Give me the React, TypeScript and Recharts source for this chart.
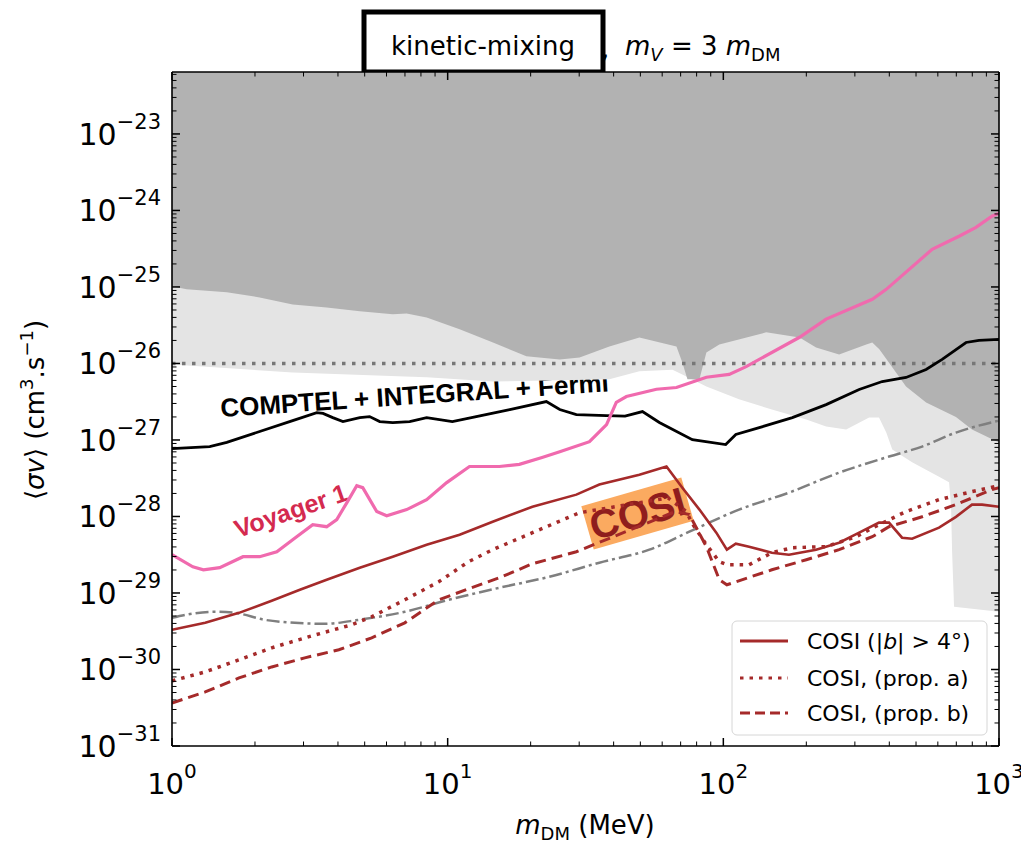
import React from 'react';
import { ComposedChart, Line, Area, XAxis, YAxis, Customized } from 'recharts';

// ---------- axes ----------
const X_DOMAIN: [number, number] = [1, 1000];
const Y_DOMAIN: [number, number] = [1e-31, 6.45e-23];
const xDecades = [1, 10, 100];
const yDecades = [1e-31, 1e-30, 1e-29, 1e-28, 1e-27, 1e-26, 1e-25, 1e-24, 1e-23];
const mantissas = [1, 2, 3, 4, 5, 6, 7, 8, 9];
const xTicks = [...xDecades.flatMap((d) => mantissas.map((m) => m * d)), 1000];
const yTicks = yDecades.flatMap((d) => mantissas.map((m) => m * d)).filter((v) => v <= Y_DOMAIN[1]);

// ---------- series (x in MeV, y in cm^3/s) ----------
const comptelFL: [number, number][] = [
  [1, 7.7e-28], [1.37, 8.2e-28], [1.58, 9.3e-28], [2.08, 1.29e-27], [2.74, 1.79e-27], [3.35, 2.28e-27],
  [3.53, 2.22e-27], [3.83, 1.96e-27], [4.17, 1.74e-27], [4.8, 1.96e-27], [5.21, 2.02e-27], [5.67, 1.74e-27],
  [6.32, 1.69e-27], [7.28, 1.74e-27], [8.39, 1.96e-27], [10.4, 1.74e-27], [12.7, 2.02e-27], [16.8, 2.5e-27],
  [22.8, 3.18e-27], [25.5, 2.5e-27], [29.3, 2.15e-27], [37.7, 2.08e-27], [44, 2.05e-27], [50.9, 2.35e-27],
  [58.6, 1.69e-27], [77.2, 1.01e-27], [102, 8.7e-28], [111, 1.18e-27], [135, 1.45e-27], [178, 1.96e-27],
  [236, 2.9e-27], [311, 4.57e-27], [377, 5.81e-27], [460, 6.56e-27], [544, 8.34e-27], [622, 1.13e-26],
  [759, 1.88e-26], [846, 2.0e-26], [1000, 2.06e-26],
];
const voyager1: [number, number][] = [
  [1, 3.16e-29], [1.19, 2.2e-29], [1.3, 2.01e-29], [1.49, 2.14e-29], [1.81, 2.98e-29], [2.08, 2.98e-29],
  [2.4, 3.46e-29], [2.74, 4.97e-29], [3.24, 7.8e-29], [3.64, 7.35e-29], [3.96, 9.1e-29], [4.31, 1.52e-28],
  [4.68, 2.53e-28], [4.92, 2.38e-28], [5.53, 1.16e-28], [6.01, 1.02e-28], [7.1, 1.23e-28], [8.39, 1.66e-28],
  [9.92, 2.77e-28], [12, 4.5e-28], [15.4, 4.5e-28], [18.2, 4.8e-28], [22, 5.9e-28], [25.5, 7.0e-28],
  [32.7, 9.5e-28], [37.7, 1.59e-27], [40.9, 3.1e-27], [44.5, 3.7e-27], [57.2, 4.6e-27], [67.6, 4.85e-27],
  [86.8, 6.6e-27], [105, 7.2e-27], [121, 9.1e-27], [189, 2.2e-26], [236, 3.8e-26], [347, 6.9e-26],
  [390, 9.3e-26], [572, 3.1e-25], [716, 4.6e-25], [825, 6.0e-25], [943, 8.4e-25], [1000, 9.2e-25],
];
const cmb: [number, number][] = [
  [1, 4.74e-30], [1.18, 5.35e-30], [1.43, 5.68e-30], [1.69, 5.5e-30], [2.17, 4.46e-30], [2.79, 4.07e-30],
  [3.58, 3.95e-30], [4.76, 4.46e-30], [6.99, 5.68e-30], [10.1, 8.15e-30], [15.4, 1.17e-29], [23.4, 1.63e-29],
  [35.5, 2.49e-29], [53.9, 3.68e-29], [75.3, 6.32e-29], [114, 1.23e-28], [173, 2.05e-28], [263, 3.74e-28],
  [399, 6.07e-28], [526, 8.2e-28], [698, 1.25e-27], [1000, 1.79e-27],
];
const thermalRelic: [number, number][] = [[1, 1.0e-26], [1000, 1.0e-26]];
const cosiB4: [number, number][] = [
  [1, 3.3e-30], [1.32, 4.07e-30], [1.75, 5.5e-30], [2.3, 7.9e-30], [2.91, 1.1e-29], [3.64, 1.49e-29],
  [4.8, 2.14e-29], [6.32, 2.98e-29], [8.39, 4.28e-29], [11.05, 5.78e-29], [14.56, 8.55e-29], [20.3, 1.34e-28],
  [29.3, 1.93e-28], [35.5, 2.61e-28], [49.6, 3.52e-28], [62.2, 4.49e-28], [71, 2.38e-28], [81.9, 1.23e-28],
  [94.3, 6.14e-29], [103, 3.68e-29], [111, 4.41e-29], [124, 4.03e-29], [150, 3.36e-29], [173, 3.16e-29],
  [217, 3.68e-29], [263, 4.54e-29], [311, 6.14e-29], [367, 8.3e-29], [399, 8.3e-29], [445, 5.28e-29],
  [484, 5.12e-29], [606, 7.13e-29], [698, 9.9e-29], [798, 1.43e-28], [868, 1.43e-28], [1000, 1.34e-28],
];
const cosiPropA: [number, number][] = [
  [1, 7.1e-31], [1.32, 9.3e-31], [1.75, 1.34e-30], [2.3, 1.92e-30], [3.21, 2.75e-30], [4.49, 3.84e-30],
  [5.3, 4.88e-30], [6.99, 8.15e-30], [9.28, 1.4e-29], [11.9, 2.56e-29], [14.56, 3.68e-29], [20.3, 6.14e-29],
  [30.1, 1.12e-28], [63, 1.75e-28], [73.4, 1.16e-28], [77.2, 8.05e-29], [86.8, 4.28e-29], [96.7, 2.56e-29],
  [103, 2.34e-29], [124, 2.34e-29], [150, 3.36e-29], [178, 3.91e-29], [236, 4.03e-29], [303, 5.44e-29],
  [367, 7.81e-29], [460, 1.16e-28], [606, 1.66e-28], [798, 2.11e-28], [1000, 2.53e-28],
];
const cosiPropB: [number, number][] = [
  [1, 3.65e-31], [1.32, 5.09e-31], [1.75, 7.76e-31], [2.3, 1.08e-30], [3.03, 1.42e-30], [4.03, 1.81e-30],
  [5.3, 2.59e-30], [6.99, 4.07e-30], [9.28, 8.15e-30], [12.2, 1.17e-29], [15.4, 1.58e-29], [20.3, 2.41e-29],
  [29.3, 3.46e-29], [67, 1.16e-28], [75.3, 1.06e-28], [86.8, 4.03e-29], [96.7, 1.49e-29], [103, 1.28e-29],
  [150, 2.01e-29], [200, 2.72e-29], [263, 3.68e-29], [347, 5.44e-29], [399, 7.35e-29], [526, 9.9e-29],
  [698, 1.43e-28], [943, 2.24e-28], [1000, 2.38e-28],
];
// lower edge of the terrestrial exclusion (dark grey) region
const terrestrialEdge: [number, number][] = [
  [1, 1.02e-25], [1.13, 9.3e-26], [1.58, 8.5e-26], [2.08, 7.3e-26], [2.74, 5.9e-26], [3.64, 5.4e-26],
  [4.8, 4.8e-26], [6.32, 4.4e-26], [7.1, 4.5e-26], [8.39, 4.0e-26], [11.05, 2.8e-26], [14.6, 1.88e-26],
  [19.3, 1.24e-26], [25.5, 1.13e-26], [30.1, 1.2e-26], [38.6, 1.67e-26], [49.6, 2.19e-26], [67.6, 1.67e-26],
  [71, 1.03e-26], [74.1, 6.2e-27], [81.9, 6.2e-27], [86.8, 1.39e-26], [96.7, 1.77e-26], [143, 2.55e-26],
  [189, 2.19e-26], [217, 1.62e-26], [263, 1.31e-26], [330, 1.77e-26], [347, 1.88e-26], [368, 1.53e-26],
  [410, 8.9e-27], [460, 5.0e-27], [544, 3.1e-27], [698, 2.0e-27], [798, 1.37e-27], [1000, 9.3e-28],
];
// lower edge of the projections (light grey) region
const projectionEdge: [number, number][] = [
  [1, 9.7e-27], [2.74, 7.6e-27], [8.39, 6.6e-27], [14.6, 5.8e-27], [38.6, 6.2e-27], [49.6, 7.9e-27],
  [65.4, 8.3e-27], [71, 7.2e-27], [86.8, 5.0e-27], [114, 3.4e-27], [150, 2.5e-27], [200, 1.85e-27],
  [236, 1.5e-27], [279, 1.37e-27], [338, 1.96e-27], [367, 1.96e-27], [390, 1.25e-27], [410, 7.5e-28],
  [484, 5.1e-28], [606, 3.3e-28], [659, 2.8e-28], [670, 1.34e-28], [676, 3.4e-29], [687, 6.6e-30],
  [1000, 5.7e-30],
];

const pts = (a: [number, number][]) => a.map(([x, y]) => ({ x, y }));
const band = (a: [number, number][]) => a.map(([x, y]) => ({ x, band: [y, Y_DOMAIN[1]] }));

// ---------- styles ----------
const FONT = 'DejaVu Sans';
const BOLD_FONT = 'Liberation Sans';
const C_BLACK = '#000000';
const C_PINK = '#f06aae';
const C_CMB = '#7f7f7f';
const C_RELIC = '#777777';
const C_COSI = '#a52a2a';
const C_DARK = '#b2b2b2';
const C_LIGHT = '#e4e4e4';
const DASH_CMB = '13 4 3 4';
const DASH_RELIC = '3.5 6.5';
const DASH_DOT = '3.5 6';
const DASH_DASH = '11 6';

const W = 1021;
const H = 835;
const MARGIN = { top: 63, right: 29, bottom: 96, left: 163 };

const isMajor = (v: number) => {
  const l = Math.log10(v);
  return Math.abs(l - Math.round(l)) < 1e-6;
};
const sup = (v: number) => {
  const e = Math.round(Math.log10(v));
  return e < 0 ? '\u2212' + Math.abs(e) : String(e);
};

const LeftTick = (p: any) => {
  const { x, y, payload } = p;
  const major = isMajor(payload.value);
  return (
    <g>
      <line x1={x} y1={y} x2={x + (major ? 8 : 4.5)} y2={y} stroke="#000" strokeWidth={major ? 1.5 : 1} />
      {major && (
        <text x={x - 11} y={y + 11} textAnchor="end" fontFamily={FONT} fontSize={30} fill="#000">
          10<tspan dy={-16} fontSize={21}>{sup(payload.value)}</tspan>
        </text>
      )}
    </g>
  );
};
const RightTick = (p: any) => {
  const { x, y, payload } = p;
  const major = isMajor(payload.value);
  return <line x1={x} y1={y} x2={x - (major ? 8 : 4.5)} y2={y} stroke="#000" strokeWidth={major ? 1.5 : 1} />;
};
const BottomTick = (p: any) => {
  const { x, y, payload } = p;
  const major = isMajor(payload.value);
  return (
    <g>
      <line x1={x} y1={y} x2={x} y2={y - (major ? 8 : 4.5)} stroke="#000" strokeWidth={major ? 1.5 : 1} />
      {major && (
        <text x={x} y={y + 48} textAnchor="middle" fontFamily={FONT} fontSize={29} fill="#000">
          10<tspan dy={-16} fontSize={20}>{sup(payload.value)}</tspan>
        </text>
      )}
    </g>
  );
};
const TopTick = (p: any) => {
  const { x, y, payload } = p;
  const major = isMajor(payload.value);
  return <line x1={x} y1={y} x2={x} y2={y + (major ? 8 : 4.5)} stroke="#000" strokeWidth={major ? 1.5 : 1} />;
};

const legendTop = [
  { label: ['COMPTEL + INTEGRAL + FL', 'conservative, |b| > 4°'], color: C_BLACK, dash: undefined, w: 3 },
  { label: ['Voyager1, prop. c'], color: C_PINK, dash: undefined, w: 3.5 },
  { label: ['CMB'], color: C_CMB, dash: '10 4 2 4', w: 2.5 },
  { label: ['thermal relic'], color: C_RELIC, dash: '3 5', w: 3 },
];
const legendBottom = [
  { label: 'COSI (|b| > 4°)', dash: undefined },
  { label: 'COSI, (prop. a)', dash: '3.5 6' },
  { label: 'COSI, (prop. b)', dash: '10 5' },
];

const Overlay = () => (
  <g>
    {/* title */}
    <rect x={356} y={4} width={239} height={60} fill="#fff" stroke="#000" strokeWidth={5} />
    <text x={475} y={47} textAnchor="middle" fontFamily={FONT} fontSize={26} fill="#000">kinetic-mixing</text>
    <text x={593} y={50} fontFamily={FONT} fontSize={26} fill="#000">,</text>
    <text x={617} y={47} fontFamily={FONT} fontSize={26} fill="#000">
      <tspan fontStyle="italic">m</tspan>
      <tspan fontSize={18} dy={6} fontStyle="italic">V</tspan>
      <tspan dy={-6}> = 3 </tspan>
      <tspan fontStyle="italic">m</tspan>
      <tspan fontSize={18} dy={6}>DM</tspan>
    </text>

    {/* axis titles */}
    <text x={577} y={826} textAnchor="middle" fontFamily={FONT} fontSize={26} fill="#000">
      <tspan fontStyle="italic">m</tspan>
      <tspan fontSize={18} dy={6}>DM</tspan>
      <tspan dy={-6}> (MeV)</tspan>
    </text>
    <text transform="translate(36 402) rotate(-90)" textAnchor="middle" fontFamily={FONT} fontSize={26} fill="#000">
      {'\u27E8'}<tspan fontStyle="italic">σv</tspan>{'\u27E9'} (cm<tspan fontSize={18} dy={-11}>3</tspan>
      <tspan dy={11}>.s</tspan><tspan fontSize={18} dy={-11}>{'\u22121'}</tspan><tspan dy={11}>)</tspan>
    </text>

    {/* region annotations */}
    <text x={632} y={202} fontFamily={FONT} fontSize={24} fill="#2b2b2b">terrestrial</text>
    <text x={760} y={202} fontFamily={FONT} fontSize={28} fill="#000">(exclusions)</text>
    <text x={209} y={331} fontFamily={FONT} fontSize={27} fill="#000">(projections)</text>

    <text transform="translate(213 409) rotate(-3.8)" fontFamily={BOLD_FONT} fontWeight="bold" fontSize={26} fill="#000">
      COMPTEL + INTEGRAL + Fermi
    </text>
    <text transform="translate(230 530) rotate(-19)" fontFamily={BOLD_FONT} fontWeight="bold" fontSize={25} fill="#d42a4f">
      Voyager 1
    </text>
    <g transform="translate(629.5 505.5) rotate(-16)">
      <rect x={-52} y={-22.5} width={104} height={45} fill="#fbaa60" />
      <text x={0} y={14} textAnchor="middle" fontFamily={BOLD_FONT} fontWeight="bold" fontSize={40} fill="#8f1d1d">COSI</text>
    </g>

    {/* upper-left legend */}
    <rect x={175} y={77} width={390} height={165} rx={5} fill="#f0f0f0" fillOpacity={0.95} stroke="#d2d2d2" strokeWidth={1} />
    {legendTop.map((e, i) => {
      const ys = [112, 157, 189, 217][i];
      return (
        <g key={i}>
          <line x1={182} x2={230} y1={ys} y2={ys} stroke={e.color} strokeWidth={e.w} strokeDasharray={e.dash} />
          {e.label.length === 2 ? (
            <>
              <text x={248} y={104} fontFamily={FONT} fontSize={22} fill="#000">{e.label[0]}</text>
              <text x={248} y={129} fontFamily={FONT} fontSize={22} fill="#000">
                conservative, |<tspan fontStyle="italic">b</tspan>| {'>'} 4°
              </text>
            </>
          ) : (
            <text x={248} y={ys + 8} fontFamily={FONT} fontSize={22} fill="#000">{e.label[0]}</text>
          )}
        </g>
      );
    })}

    {/* lower-right legend */}
    <rect x={724} y={613} width={255} height={114} rx={5} fill="#ffffff" fillOpacity={0.9} stroke="#d6d6d6" strokeWidth={1} />
    {legendBottom.map((e, i) => {
      const ys = [633, 670, 705][i];
      return (
        <g key={i}>
          <line x1={732} x2={780} y1={ys} y2={ys} stroke={C_COSI} strokeWidth={3} strokeDasharray={e.dash} />
          <text x={799} y={ys + 8} fontFamily={FONT} fontSize={22} fill="#000">
            {i === 0 ? (
              <>COSI (|<tspan fontStyle="italic">b</tspan>| {'>'} 4°)</>
            ) : (
              e.label
            )}
          </text>
        </g>
      );
    })}
  </g>
);

export default function App() {
  return (
    <div style={{ width: W, height: H }}>
      <style>{'html, body { overflow: hidden; }'}</style>
      <ComposedChart width={W} height={H} margin={MARGIN}>
        <XAxis xAxisId={0} dataKey="x" type="number" scale="log" domain={X_DOMAIN} allowDataOverflow
          ticks={xTicks} interval={0} tickSize={0} tickMargin={0} height={1} orientation="bottom"
          axisLine={{ stroke: '#000', strokeWidth: 1.6 }} tickLine={false} tick={<BottomTick />} />
        <XAxis xAxisId="top" dataKey="x" type="number" scale="log" domain={X_DOMAIN} allowDataOverflow
          ticks={xTicks} interval={0} tickSize={0} tickMargin={0} height={1} orientation="top"
          axisLine={{ stroke: '#000', strokeWidth: 1.6 }} tickLine={false} tick={<TopTick />} />
        <YAxis yAxisId={0} type="number" scale="log" domain={Y_DOMAIN} allowDataOverflow
          ticks={yTicks} interval={0} tickSize={0} tickMargin={0} width={1} orientation="left"
          axisLine={{ stroke: '#000', strokeWidth: 1.6 }} tickLine={false} tick={<LeftTick />} />
        <YAxis yAxisId="right" type="number" scale="log" domain={Y_DOMAIN} allowDataOverflow
          ticks={yTicks} interval={0} tickSize={0} tickMargin={0} width={1} orientation="right"
          axisLine={{ stroke: '#000', strokeWidth: 1.6 }} tickLine={false} tick={<RightTick />} />

        <Area data={band(projectionEdge)} dataKey="band" type="linear" fill={C_LIGHT} fillOpacity={1}
          stroke="none" isAnimationActive={false} dot={false} activeDot={false} />
        <Area data={band(terrestrialEdge)} dataKey="band" type="linear" fill={C_DARK} fillOpacity={1}
          stroke="none" isAnimationActive={false} dot={false} activeDot={false} />

        <Line data={pts(thermalRelic)} dataKey="y" type="linear" stroke={C_RELIC} strokeWidth={3.5}
          strokeDasharray={DASH_RELIC} dot={false} activeDot={false} isAnimationActive={false} />
        <Line data={pts(cmb)} dataKey="y" type="monotone" stroke={C_CMB} strokeWidth={2.5}
          strokeDasharray={DASH_CMB} dot={false} activeDot={false} isAnimationActive={false} />
        <Line data={pts(comptelFL)} dataKey="y" type="linear" stroke={C_BLACK} strokeWidth={2.8}
          dot={false} activeDot={false} isAnimationActive={false} />
        <Line data={pts(voyager1)} dataKey="y" type="linear" stroke={C_PINK} strokeWidth={3.2}
          dot={false} activeDot={false} isAnimationActive={false} />
        <Line data={pts(cosiB4)} dataKey="y" type="linear" stroke={C_COSI} strokeWidth={2.6}
          dot={false} activeDot={false} isAnimationActive={false} />
        <Line data={pts(cosiPropA)} dataKey="y" type="linear" stroke={C_COSI} strokeWidth={3.5}
          strokeDasharray={DASH_DOT} dot={false} activeDot={false} isAnimationActive={false} />
        <Line data={pts(cosiPropB)} dataKey="y" type="linear" stroke={C_COSI} strokeWidth={3}
          strokeDasharray={DASH_DASH} dot={false} activeDot={false} isAnimationActive={false} />

        <Customized component={Overlay} />
      </ComposedChart>
    </div>
  );
}
